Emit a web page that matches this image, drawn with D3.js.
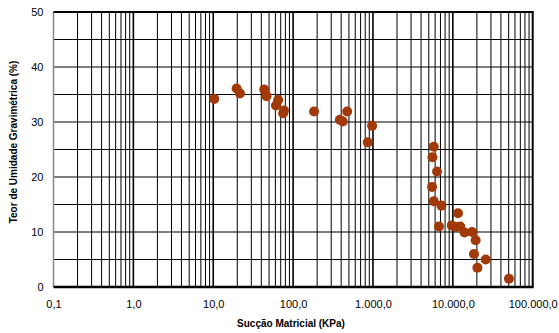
<!DOCTYPE html>
<html><head><meta charset="utf-8">
<script src="https://cdn.jsdelivr.net/npm/d3@7"></script>
<style>html,body{margin:0;padding:0;background:#fff}svg{display:block}</style>
</head><body>
<script>
// Data: suction (kPa) and gravimetric water content (%)
const suction = [10.3, 19.6, 21.6, 43.5, 46.5, 65, 61, 77, 75, 183, 385, 419, 475, 975, 861,
  5770, 5555, 6340, 5495, 5770, 7190, 11600, 6710, 9700, 11000, 12400, 14000, 17400, 19300,
  18400, 25800, 20300, 50400];
const moisture = [34.2, 36.1, 35.2, 35.9, 34.7, 34.0, 33.0, 32.1, 31.6, 31.9, 30.4, 30.1, 31.9, 29.3, 26.3,
  25.5, 23.6, 21.0, 18.2, 15.6, 14.8, 13.4, 11.0, 11.2, 10.9, 11.0, 9.9, 10.0, 8.5,
  6.0, 5.0, 3.5, 1.5];
const xTickValues = [0.1, 1, 10, 100, 1000, 10000, 100000];
const xTickLabels = ["0,1", "1,0", "10,0", "100,0", "1.000,0", "10.000,0", "100.000,0"];
const yTickValues = [0, 10, 20, 30, 40, 50];
const xTitle = "Sucção Matricial (KPa)";
const yTitle = "Teor de Umidade Gravimétrica (%)";

const W = 559, H = 333;
const L = 53.5, R = 532.7, T = 12, B = 287;
const svg = d3.select("body").append("svg").attr("width", W).attr("height", H);
const x = d3.scaleLog().domain([0.1, 100000]).range([L, R]);
const y = d3.scaleLinear().domain([0, 50]).range([B, T]);

// minor vertical grid lines
const minor = [];
for (let e = -1; e < 5; e++) for (let k = 2; k <= 9; k++) minor.push(k * Math.pow(10, e));
svg.append("g").selectAll("line").data(minor).join("line")
  .attr("x1", d => x(d)).attr("x2", d => x(d)).attr("y1", T).attr("y2", B)
  .attr("stroke", "#000").attr("stroke-width", 1);
// decade lines
svg.append("g").selectAll("line").data(xTickValues.slice(1, -1)).join("line")
  .attr("x1", d => x(d)).attr("x2", d => x(d)).attr("y1", T).attr("y2", B)
  .attr("stroke", "#000").attr("stroke-width", 1.6);
// horizontal grid lines
svg.append("g").selectAll("line").data(d3.range(5, 50, 5)).join("line")
  .attr("x1", L).attr("x2", R).attr("y1", d => y(d)).attr("y2", d => y(d))
  .attr("stroke", "#000").attr("stroke-width", 1);
// borders
svg.append("line").attr("x1", L).attr("x2", L).attr("y1", T).attr("y2", B).attr("stroke", "#888").attr("stroke-width", 1.5);
svg.append("line").attr("x1", L).attr("x2", R + 1).attr("y1", T).attr("y2", T).attr("stroke", "#000").attr("stroke-width", 2);
svg.append("line").attr("x1", R).attr("x2", R).attr("y1", T).attr("y2", B).attr("stroke", "#000").attr("stroke-width", 2);
svg.append("line").attr("x1", L).attr("x2", R + 1).attr("y1", B).attr("y2", B).attr("stroke", "#000").attr("stroke-width", 2.5);

// axes labels via d3 axes
const xAxis = d3.axisBottom(x).tickValues(xTickValues)
  .tickFormat((d, i) => xTickLabels[i]).tickSize(0).tickPadding(13);
const gx = svg.append("g").attr("transform", `translate(0,${B})`).call(xAxis);
gx.select(".domain").remove();
gx.selectAll("text").attr("font-family", "Liberation Sans, Arial, sans-serif").attr("font-size", 11).attr("fill", "#000");

const yAxis = d3.axisLeft(y).tickValues(yTickValues).tickSize(0).tickPadding(10);
const gy = svg.append("g").attr("transform", `translate(${L},0)`).call(yAxis);
gy.select(".domain").remove();
gy.selectAll("text").attr("font-family", "Liberation Sans, Arial, sans-serif").attr("font-size", 11).attr("fill", "#000");

// points
const pts = suction.map((s, i) => ({s, m: moisture[i]}));
svg.append("g").selectAll("circle").data(pts).join("circle")
  .attr("cx", d => x(d.s)).attr("cy", d => y(d.m)).attr("r", 5)
  .attr("fill", "#a13a08");

// titles
svg.append("text").attr("x", 291).attr("y", 327).attr("text-anchor", "middle")
  .attr("font-family", "Liberation Sans, Arial, sans-serif").attr("font-size", 10).attr("font-weight", "bold")
  .text(xTitle);
svg.append("text").attr("transform", "translate(17,142) rotate(-90)").attr("text-anchor", "middle")
  .attr("font-family", "Liberation Sans, Arial, sans-serif").attr("font-size", 10).attr("font-weight", "bold")
  .text(yTitle);
</script>
</body></html>
